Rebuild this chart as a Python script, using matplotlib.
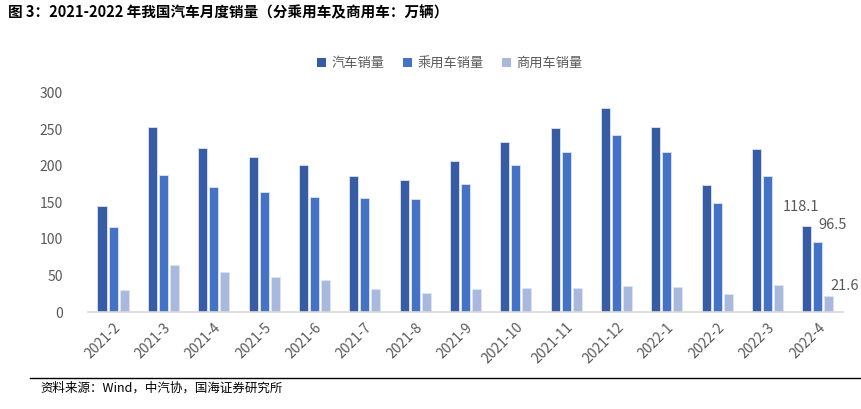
import matplotlib
matplotlib.use("Agg")
import matplotlib.pyplot as plt
import numpy as np
from matplotlib.patches import Patch

plt.rcParams['font.family'] = ['Noto Sans CJK SC', 'DejaVu Sans']

months = ["2021-2", "2021-3", "2021-4", "2021-5", "2021-6", "2021-7", "2021-8",
          "2021-9", "2021-10", "2021-11", "2021-12", "2022-1", "2022-2",
          "2022-3", "2022-4"]
total = [145.5, 252.6, 225.2, 212.8, 201.5, 186.4, 180.9, 207.2, 233.3,
         252.2, 278.6, 253.1, 173.7, 223.4, 118.1]
passenger = [115.8, 187.7, 170.8, 164.7, 157.0, 155.5, 155.3, 175.6, 200.9,
             219.2, 242.3, 218.6, 148.9, 186.3, 96.5]
commercial = [29.7, 64.9, 54.4, 48.1, 44.5, 30.9, 25.6, 31.6, 32.4, 33.0,
              36.3, 34.5, 24.8, 37.1, 21.6]
series_names = ["汽车销量", "乘用车销量", "商用车销量"]
colors = ["#375CA3", "#4472C4", "#A9B8DD"]
gray = "#595959"

fig = plt.figure(figsize=(8.62, 4.09), dpi=100)
ax = fig.add_axes([0.102, 0.237, 0.876, 0.536])

x = np.arange(len(months))
w = 0.18
pitch = 0.22
for i, vals in enumerate([total, passenger, commercial]):
    ax.bar(x + (i - 1) * pitch, vals, width=w, color=colors[i],
           edgecolor="#DCE3F2", linewidth=0.6)

# labels on the latest month only
last = len(months) - 1
ax.text(last - pitch - 0.12, total[-1] + 16, f"{total[-1]:.1f}", ha="center",
        va="bottom", fontsize=10.5, color=gray)
ax.text(last + 0.3, passenger[-1] + 13, f"{passenger[-1]:.1f}", ha="center",
        va="bottom", fontsize=10.5, color=gray)
ax.text(last + 0.53, commercial[-1] + 4, f"{commercial[-1]:.1f}", ha="center",
        va="bottom", fontsize=10.5, color=gray)

ax.set_xlim(-0.5, len(months) - 0.5)
ax.set_ylim(0, 300)
ax.set_yticks(np.arange(0, 301, 50))
ax.set_xticks(x)
ax.set_xticklabels(months, rotation=45, ha="right", rotation_mode="anchor")
ax.tick_params(axis="both", length=0, colors=gray, labelsize=10)
ax.tick_params(axis="y", pad=18)
ax.tick_params(axis="x", pad=6)
for s in ["top", "right", "left"]:
    ax.spines[s].set_visible(False)
ax.spines["bottom"].set_color("#D9D9D9")
ax.spines["bottom"].set_linewidth(1.2)

handles = [Patch(facecolor=c, edgecolor="none") for c in colors]
fig.legend(handles, series_names, loc="center", bbox_to_anchor=(0.522, 0.845),
           ncol=3, frameon=False, fontsize=9.5, labelcolor=gray,
           handlelength=0.7, handleheight=0.7, handletextpad=0.4,
           columnspacing=1.4)

fig.text(0.009, 0.97, "图 3：2021-2022 年我国汽车月度销量（分乘用车及商用车：万辆）",
         fontsize=10.5, fontweight="bold", va="center", ha="left", color="black")
fig.add_artist(plt.Line2D([0.035, 0.998], [0.076, 0.076], color="black",
                          linewidth=1.0, transform=fig.transFigure))
fig.text(0.047, 0.05, "资料来源：Wind，中汽协，国海证券研究所", fontsize=9,
         va="center", ha="left", color="black")

fig.savefig("out.png", dpi=100)
